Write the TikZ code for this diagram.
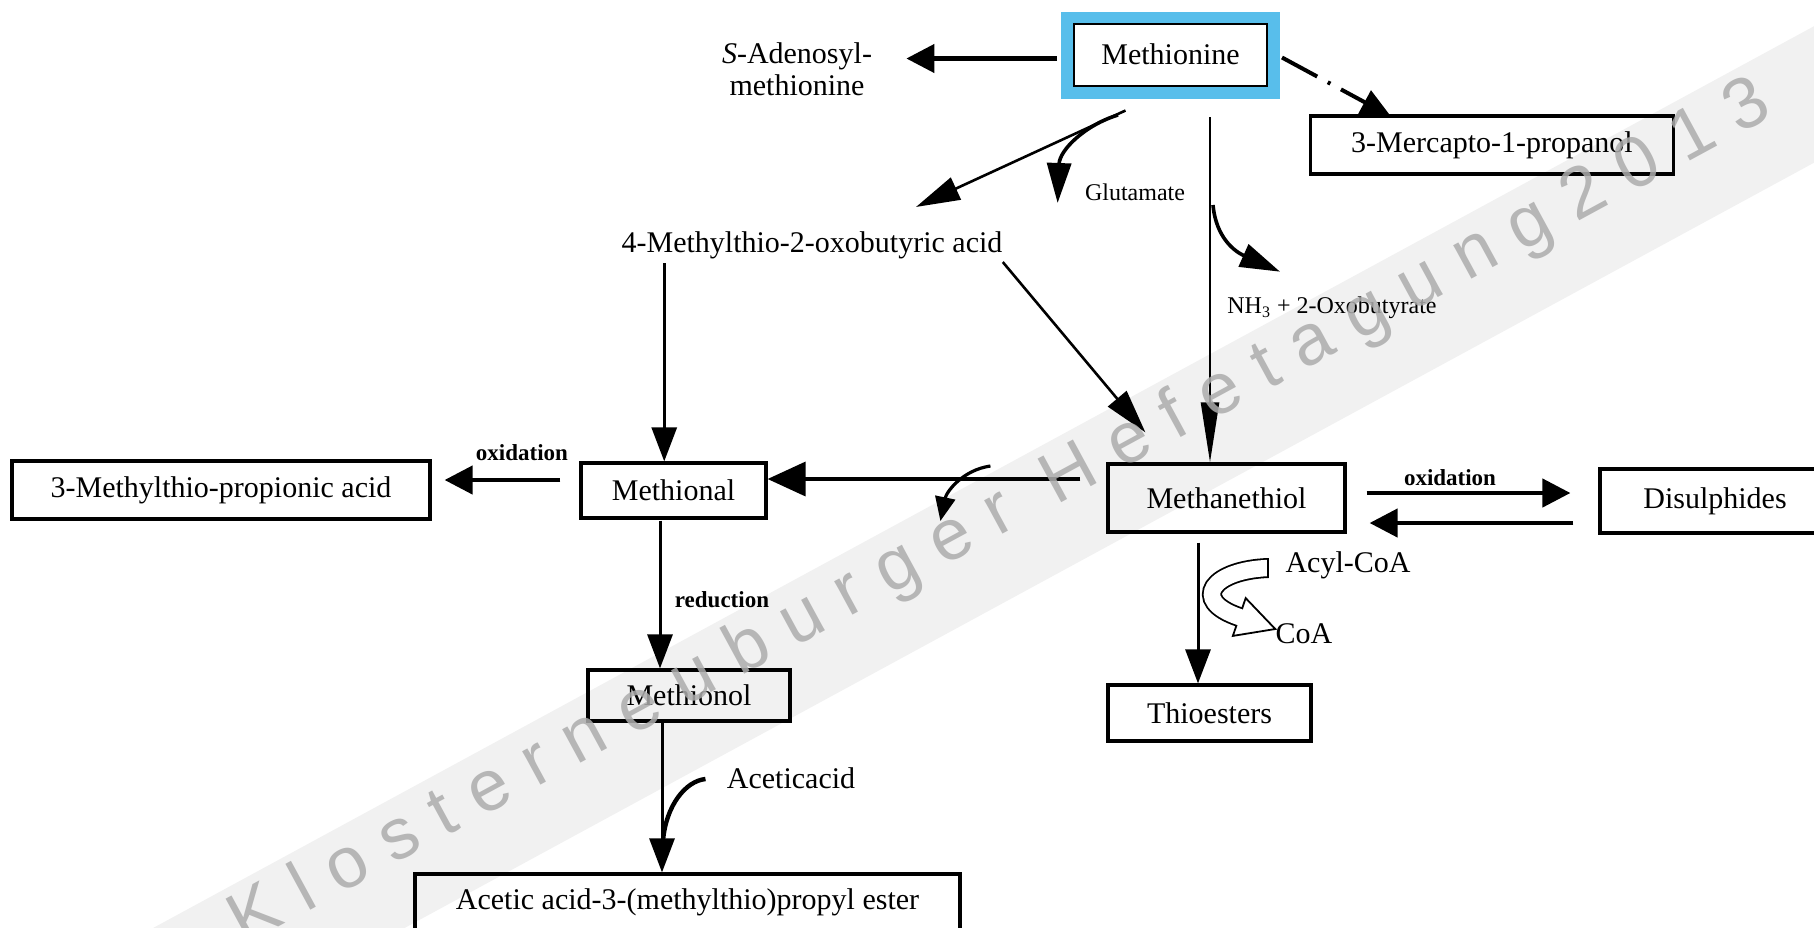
\documentclass[tikz,border=0pt]{standalone}
\usepackage{fontspec}
\setmainfont{Liberation Serif}
\newfontfamily\wmfont[LetterSpace=30.5]{Liberation Sans}
\usetikzlibrary{arrows.meta,calc}
\definecolor{metblue}{RGB}{88,190,235}
\definecolor{wmband}{RGB}{241,241,241}
\definecolor{wmtext}{RGB}{172,172,172}
\tikzset{
  box/.style={draw, line width=1.6pt, inner sep=0pt, font=\fontsize{15}{17}\selectfont},
  lbl/.style={inner sep=0pt, font=\fontsize{15}{17}\selectfont},
  small/.style={inner sep=0pt, font=\fontsize{12}{14}\selectfont},
  boldlbl/.style={inner sep=0pt, font=\fontsize{11.5}{13}\selectfont\bfseries},
  arrA/.style={line width=2.2pt, -{Triangle[length=14pt,width=14pt]}},
  arrB/.style={line width=1.8pt, -{Triangle[length=19pt,width=17pt]}},
  arrV/.style={line width=1.5pt, -{Triangle[length=17pt,width=12.5pt]}},
  arrT/.style={line width=1.3pt, -{Triangle[length=22pt,width=12pt]}},
  arrS/.style={line width=1.2pt, -{Triangle[length=30pt,width=9pt]}},
  arrCurve/.style={line width=1.8pt, -{Triangle[length=20pt,width=12pt]}},
  arrSmall/.style={line width=1.6pt, -{Triangle[length=12pt,width=10pt]}},
  dashdotarrow/.style={line width=2pt, dash pattern=on 20pt off 6pt on 1.5pt off 6pt, -{Triangle[length=15pt,width=13pt]}}
}
\begin{document}
\begin{tikzpicture}[x=0.5pt,y=-0.5pt]
\useasboundingbox (0,0) rectangle (1814,927);
% watermark band (background)
\node[fill=wmband, minimum width=2200pt, minimum height=60pt, rotate=28.5, inner sep=0pt] (wmbandnode) at (1010,531) {};

% nodes
\node[box, draw=metblue, line width=6.5pt, minimum width=103pt, minimum height=37pt] (metb) at (1170.5,55) {};
\node[box, line width=1pt, minimum width=96.5pt, minimum height=31pt] (met) at (1170.5,54.5) {Methionine};
\node[lbl, align=center, font=\fontsize{15}{16}\selectfont] (sam) at (797,69) {\textit{S}-Adenosyl-\\methionine};
\node[box, minimum width=181.5pt, minimum height=29pt] (merc) at (1492,145) {3-Mercapto-1-propanol};
\node[lbl] (mtob) at (812,245) {4-Methylthio-2-oxobutyric acid};
\node[small] (glu) at (1135,192) {Glutamate};
\node[small, anchor=west] (nh3) at (1227,308) {NH\textsubscript{3} + 2-Oxobutyrate};
\node[box, minimum width=92.5pt, minimum height=27.5pt] (mnal) at (673.5,490.5) {Methional};
\node[box, minimum width=209pt, minimum height=29pt] (mtpa) at (221,490) {3-Methylthio-propionic acid};
\node[box, minimum width=118.5pt, minimum height=34pt] (mthiol) at (1226.5,498) {Methanethiol};
\node[box, minimum width=115pt, minimum height=32pt] (disul) at (1715,501) {Disulphides};
\node[box, minimum width=101.5pt, minimum height=28pt] (thio) at (1209.5,713) {Thioesters};
\node[box, minimum width=101pt, minimum height=25.5pt] (mnol) at (689,695.5) {Methionol};
\node[box, minimum width=272.5pt, minimum height=28pt] (acet) at (687.5,902) {Acetic acid-3-(methylthio)propyl ester};

\node[boldlbl] (ox1) at (522,453) {oxidation};
\node[boldlbl] (ox2) at (1450,478) {oxidation};
\node[boldlbl] (red) at (722,600) {reduction};
\node[lbl] (acyl) at (1348,565) {Acyl-CoA};
\node[lbl] (coa) at (1304,634) {CoA};
\node[lbl] (acetic) at (791,778) {Aceticacid};

% connectors
\draw[arrA] ($(metb.west)+(-4,3.5)$) -- ($(sam.east|-metb.west)+(34,3.5)$);
\draw[dashdotarrow] ($(metb.east)+(2,2.5)$) -- ($(merc.north west)+(82,2)$);
\draw[arrT] ($(metb.south)+(-45,12)$) -- ($(mtob.north)+(104,-24)$);
\draw[arrCurve] ($(metb.south)+(-52.5,16.5)$) .. controls ($(metb.south)+(-85.5,26.5)$) and ($(glu.west)+(-25,-42)$) .. ($(glu.west)+(-27,11)$);

\coordinate (v1) at ($(metb.south)+(39.5,18.5)$);
\draw[arrS] (v1) -- (v1 |- mthiol.north);
\draw[arrCurve] ($(v1)+(3,88)$) .. controls ($(v1)+(6,121)$) and ($(nh3.north west)+(8,-45)$) .. ($(nh3.north west)+(53,-25)$);

\coordinate (a1) at ($(mtob.south west)+(43,4)$);
\draw[arrV] (a1) -- (a1 |- mnal.north);
\draw[arrT] ($(mtob.south east)+(0,3)$) -- ($(mthiol.north west)+(39,-30)$);

\draw[arrB] ($(mthiol.west)+(-26,-19)$) -- ($(mnal.east)+(0,-11.5)$);
\draw[arrSmall] ($(mthiol.west)+(-116,-32)$) .. controls ($(mthiol.west)+(-144,-28)$) and ($(mthiol.west)+(-160,-6)$) .. ($(mthiol.west)+(-166,23)$);

\draw[arrA] ($(mnal.west)+(-19,-10.5)$) -- ($(mtpa.east)+(13,-10)$);

\draw[arrA] ($(mthiol.east)+(20,-5)$) -- ($(disul.west)+(-28,-8)$);
\draw[arrA] ($(disul.west)+(-25,22)$) -- ($(mthiol.east)+(23,25)$);

\coordinate (t1) at ($(mthiol.south)+(-28.5,9)$);
\draw[arrV] (t1) -- (t1 |- thio.north);

% hollow curved arrow Acyl-CoA -> CoA
\coordinate (hS) at ($(acyl.west)+(-17,3)$);
\coordinate (hC1) at ($(acyl.west)+(-72,5)$);
\coordinate (hC2) at ($(coa.west)+(-86,-34)$);
\coordinate (hB) at ($(coa.west)+(-36,-17)$);
\coordinate (hT) at ($(coa.west)+(0,-5)$);
\coordinate (hb1) at ($(coa.west)+(-42.4,1.9)$);
\coordinate (hb2) at ($(coa.west)+(-29.6,-35.9)$);
\draw[line width=10pt] (hS) .. controls (hC1) and (hC2) .. (hB);
\draw[line width=0.9pt, fill=white, line join=miter] (hb1) -- (hT) -- (hb2) -- cycle;
\draw[line width=8.2pt, white] (hS) .. controls (hC1) and (hC2) .. (hB) -- ($(hB)+(4,1.4)$);
\draw[line width=0.9pt] ($(hS)+(0,-10)$) -- ($(hS)+(0,10)$);

\coordinate (m1) at ($(mnal.south)+(-13.5,1)$);
\draw[arrV] (m1) -- (m1 |- mnol.north);
\coordinate (m2) at ($(mnol.south)+(-27,0)$);
\draw[arrV] (m2) -- (m2 |- acet.north);
\draw[line width=2.2pt] ($(acetic.west)+(-21,1)$) .. controls ($(acetic.west)+(-41,3)$) and ($(m2)+(4,83)$) .. ($(m2)+(1,118)$);

% watermark text
\node[rotate=28.5, text=wmtext, opacity=0.85, font=\wmfont\fontsize{36}{36}\selectfont, inner sep=0pt] (wm) at (1001,514) {Klosterneuburger Hefetagung2013};
\end{tikzpicture}
\end{document}
